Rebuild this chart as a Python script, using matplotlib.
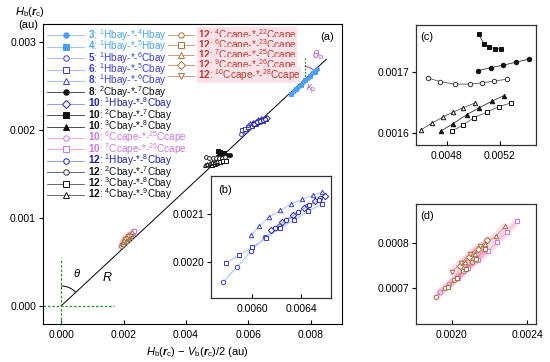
import numpy as np
import matplotlib
matplotlib.use("Agg")
import matplotlib.pyplot as plt
from matplotlib.patches import Arc
from matplotlib.transforms import IdentityTransform

plt.rcParams['font.family'] = ['Liberation Sans', 'DejaVu Sans']
plt.rcParams['mathtext.fontset'] = 'custom'
plt.rcParams['mathtext.rm'] = 'Liberation Sans'
plt.rcParams['mathtext.it'] = 'Liberation Sans:italic'
plt.rcParams['mathtext.bf'] = 'Liberation Sans:bold'
plt.rcParams['mathtext.bfit'] = 'Liberation Sans:italic:bold'

# ---------------- data ----------------
# legend labels (paths), same order as the series below
labels = [
    r"$\mathbf{3}$: $^{1}$Hbay-*-$^{4}$Hbay",
    r"$\mathbf{4}$: $^{1}$Hbay-*-$^{5}$Hbay",
    r"$\mathbf{5}$: $^{1}$Hbay-*-$^{6}$Cbay",
    r"$\mathbf{6}$: $^{1}$Hbay-*-$^{5}$Cbay",
    r"$\mathbf{8}$: $^{1}$Hbay-*-$^{6}$Cbay",
    r"$\mathbf{8}$: $^{2}$Cbay-*-$^{7}$Cbay",
    r"$\mathbf{10}$: $^{1}$Hbay-*-$^{8}$Cbay",
    r"$\mathbf{10}$: $^{2}$Cbay-*-$^{7}$Cbay",
    r"$\mathbf{10}$: $^{3}$Cbay-*-$^{8}$Cbay",
    r"$\mathbf{10}$: $^{6}$Ccape-*-$^{25}$Ccape",
    r"$\mathbf{10}$: $^{7}$Ccape-*-$^{26}$Ccape",
    r"$\mathbf{12}$: $^{1}$Hbay-*-$^{8}$Cbay",
    r"$\mathbf{12}$: $^{2}$Cbay-*-$^{7}$Cbay",
    r"$\mathbf{12}$: $^{3}$Cbay-*-$^{8}$Cbay",
    r"$\mathbf{12}$: $^{4}$Cbay-*-$^{9}$Cbay",
    r"$\mathbf{12}$: $^{4}$Ccape-*-$^{22}$Ccape",
    r"$\mathbf{12}$: $^{6}$Ccape-*-$^{23}$Ccape",
    r"$\mathbf{12}$: $^{7}$Ccape-*-$^{25}$Ccape",
    r"$\mathbf{12}$: $^{9}$Ccape-*-$^{26}$Ccape",
    r"$\mathbf{12}$: $^{10}$Ccape-*-$^{28}$Ccape",
]

# x = Hb - Vb/2, y = Hb  (au)
x_3_hh4 = [0.00745, 0.00760, 0.00775, 0.00790, 0.00805, 0.00820]
y_3_hh4 = [0.00244, 0.00249, 0.002545, 0.002595, 0.002645, 0.002695]
x_4_hh5 = [0.00738, 0.00752, 0.00768, 0.00783, 0.00798, 0.00812]
y_4_hh5 = [0.00241, 0.002465, 0.002515, 0.002565, 0.002615, 0.002665]

x_5_hc6 = [0.005763, 0.005878, 0.005992, 0.006106, 0.00622, 0.006335, 0.006449, 0.006555]
y_5_hc6 = [0.001958, 0.00199, 0.002023, 0.002052, 0.002075, 0.002096, 0.002117, 0.002133]
x_6_hc5 = [0.005788, 0.005894, 0.006, 0.006114, 0.006229, 0.006343, 0.006457, 0.006571]
y_6_hc5 = [0.001998, 0.002015, 0.002031, 0.00205, 0.002071, 0.002088, 0.002106, 0.002121]
x_8_hc6 = [0.005992, 0.006057, 0.006139, 0.006229, 0.006318, 0.006408, 0.006498, 0.006571]
y_8_hc6 = [0.002056, 0.002075, 0.002094, 0.002108, 0.002121, 0.002131, 0.00214, 0.002146]
x_10_hc8 = [0.006155, 0.006245, 0.006335, 0.006424, 0.006514, 0.006596]
y_10_hc8 = [0.002067, 0.002083, 0.002098, 0.002113, 0.002127, 0.002138]
x_12_hc8 = [0.006188, 0.006278, 0.006376, 0.006465, 0.006547]
y_12_hc8 = [0.002071, 0.002088, 0.002104, 0.002119, 0.00213]

x_8_cc7 = [0.005034, 0.005132, 0.005223, 0.005321, 0.005419]
y_8_cc7 = [0.001702, 0.001707, 0.001711, 0.001716, 0.001721]
x_10_cc7 = [0.005039, 0.005079, 0.005117, 0.005162, 0.005208]
y_10_cc7 = [0.001762, 0.001746, 0.001741, 0.001738, 0.001738]
x_10_cc8 = [0.004755, 0.004845, 0.004951, 0.005042, 0.00514, 0.00523]
y_10_cc8 = [0.001603, 0.001615, 0.00163, 0.001641, 0.001652, 0.001661]
x_12_cc7 = [0.004657, 0.004747, 0.00486, 0.004974, 0.005064, 0.005155, 0.005253]
y_12_cc7 = [0.00169, 0.001684, 0.00168, 0.00168, 0.001682, 0.001685, 0.001688]
x_12_cc8 = [0.004838, 0.004921, 0.005004, 0.005102, 0.005192, 0.005283]
y_12_cc8 = [0.001603, 0.001613, 0.001625, 0.001634, 0.001643, 0.001649]
x_12_cc9 = [0.004604, 0.004687, 0.00477, 0.004845, 0.004921, 0.005011]
y_12_cc9 = [0.001605, 0.001616, 0.001626, 0.001634, 0.001641, 0.001649]

x_10_cc25 = [0.001936, 0.001984, 0.002032, 0.00208, 0.002128, 0.002176]
y_10_cc25 = [0.000691, 0.000709, 0.000727, 0.000747, 0.000764, 0.000784]
x_10_cc26 = [0.002032, 0.002085, 0.002139, 0.002192, 0.00224, 0.002293, 0.002347]
y_10_cc26 = [0.000722, 0.000744, 0.000762, 0.000782, 0.000802, 0.000824, 0.000849]
x_12_cc22 = [0.001915, 0.001963, 0.002011, 0.002059, 0.002107]
y_12_cc22 = [0.00068, 0.0007, 0.000718, 0.000738, 0.000758]
x_12_cc23 = [0.001979, 0.002027, 0.002075, 0.002128, 0.002176]
y_12_cc23 = [0.000702, 0.000722, 0.000742, 0.000764, 0.000787]
x_12_cc25 = [0.002069, 0.002123, 0.002176, 0.002235, 0.002283]
y_12_cc25 = [0.000758, 0.000776, 0.000798, 0.000816, 0.000838]
x_12_cc26 = [0.002043, 0.002091, 0.002139, 0.002187]
y_12_cc26 = [0.000749, 0.000769, 0.000787, 0.000807]
x_12_cc28 = [0.002, 0.002048, 0.002096, 0.002149]
y_12_cc28 = [0.000736, 0.000756, 0.000776, 0.000793]

series_x = [x_3_hh4, x_4_hh5, x_5_hc6, x_6_hc5, x_8_hc6, x_8_cc7, x_10_hc8, x_10_cc7,
            x_10_cc8, x_10_cc25, x_10_cc26, x_12_hc8, x_12_cc7, x_12_cc8, x_12_cc9,
            x_12_cc22, x_12_cc23, x_12_cc25, x_12_cc26, x_12_cc28]
series_y = [y_3_hh4, y_4_hh5, y_5_hc6, y_6_hc5, y_8_hc6, y_8_cc7, y_10_hc8, y_10_cc7,
            y_10_cc8, y_10_cc25, y_10_cc26, y_12_hc8, y_12_cc7, y_12_cc8, y_12_cc9,
            y_12_cc22, y_12_cc23, y_12_cc25, y_12_cc26, y_12_cc28]

# straight line R through origin
fit_slope = 0.33
fit_x = np.array([0.0, 0.0085])

# ---------------- styles ----------------
LB, MB, DB, BK, OR, BR = '#4a9ef5', '#3a3ad8', '#1f1fa8', '#111111', '#c879dc', '#a4703c'
markers = ['o', 's', 'o', 's', '^', 'o', 'D', 's', '^', 'o', 's', 'o', 'o', 's', '^',
           'o', 's', '^', 'D', 'v']
mcolors = [LB, LB, MB, MB, MB, BK, DB, BK, BK, OR, OR, DB, '#333333', BK, BK,
           BR, BR, BR, BR, BR]
filled = [True, True, False, False, False, True, False, True, True, False, False,
          False, False, False, False, False, False, False, False, False]
lcolors = ['#94b8f6'] * 5 + ['#333333'] + ['#7f8cf0'] + ['#333333'] * 2 + ['#f2a0d0'] * 2 + \
          ['#7f8cf0'] + ['#555555'] * 3 + ['#d08a6a'] * 5
tcolors = ['#47a3f0', '#47a3f0', MB, MB, MB, BK, DB, BK, BK, OR, OR, DB, BK, BK, BK] + \
          ['#c0392b'] * 5
glow = [False] * 9 + [True, True] + [False] * 4 + [True] * 5

fig = plt.figure(figsize=(5.5, 3.62), dpi=100)
W, H = 550.0, 362.0


def px_axes(l, t, r, b):
    return fig.add_axes([l / W, 1 - b / H, (r - l) / W, (b - t) / H])


def draw_series(a, idx, ms):
    hs = []
    for i in idx:
        if glow[i]:
            a.plot(series_x[i], series_y[i], '-', color='#ff9ecb', lw=5, alpha=0.35,
                   solid_capstyle='round', zorder=1)
        h, = a.plot(series_x[i], series_y[i], '-', marker=markers[i], ms=ms, lw=0.6,
                    color=lcolors[i], mec=mcolors[i], mew=0.7,
                    mfc=mcolors[i] if filled[i] else 'white', zorder=3)
        hs.append(h)
    return hs


# ---------------- main panel (a) ----------------
ax = px_axes(43, 24, 342, 324)
ax.set_xlim(-0.00058, 0.009)
ax.set_ylim(-0.000205, 0.003205)
ax.plot(fit_x, fit_slope * fit_x, color='black', lw=0.7, zorder=2)
ax.plot([-0.00058, 0.0017], [0, 0], ls=(0, (2, 1.5)), color='#2e8b2e', lw=0.9)
ax.plot([0, 0], [-0.0002, 0.00055], ls=(0, (2, 1.5)), color='#2e8b2e', lw=0.9)
handles = draw_series(ax, range(20), 2.8)

ax.set_xticks([0, 0.002, 0.004, 0.006, 0.008])
ax.set_xticklabels(['0.000', '0.002', '0.004', '0.006', '0.008'])
ax.set_yticks([0, 0.001, 0.002, 0.003])
ax.set_yticklabels(['0.000', '0.001', '0.002', '0.003'])
ax.tick_params(axis='x', direction='in', length=3, labelsize=7.5, pad=4)
ax.tick_params(axis='y', direction='out', length=3, labelsize=7.5, pad=2)

ax.text(0.95, 0.957, '(a)', transform=ax.transAxes, ha='center', va='center', fontsize=8)
ax.text(0.00051, 0.000375, r'$\theta$', ha='center', va='center', fontsize=8)
ax.text(0.00147, 0.00032, r'$R$', ha='center', va='center', fontsize=9)

# angle arcs drawn in pixel space
o = ax.transData.transform((0, 0))
e = ax.transData.transform((fit_x[1], fit_slope * fit_x[1]))
ang = np.degrees(np.arctan2(e[1] - o[1], e[0] - o[0]))
ax.add_patch(Arc(o, 40, 40, theta1=ang, theta2=90, transform=IdentityTransform(),
                 color='black', lw=0.7))
c = ax.transData.transform((0.0078, fit_slope * 0.0078))
ax.plot([0.0078, 0.0078], [fit_slope * 0.0078, 0.00282], ls=(0, (1.5, 1.2)),
        color='#2e8b2e', lw=0.9)
ax.add_patch(Arc(c, 26, 26, theta1=ang, theta2=90, transform=IdentityTransform(),
                 color='#b04fd0', lw=0.8))
ax.text(0.00822, 0.00285, r'$\theta_\mathrm{b}$', color='#b04fd0', ha='center', va='center',
        fontsize=8)
ax.text(0.0080, 0.00246, r'$\kappa_\mathrm{p}$', color='#b04fd0', ha='center', va='center',
        fontsize=7)

leg1 = ax.legend(handles[:15], labels[:15], loc='upper left',
                 bbox_to_anchor=(47 / W, 1 - 27 / H), bbox_transform=fig.transFigure,
                 frameon=False, fontsize=7.2, handlelength=3.7, handletextpad=0.35,
                 labelspacing=-0.44, borderpad=0, borderaxespad=0, markerscale=1.4)
for t, col in zip(leg1.get_texts(), tcolors[:15]):
    t.set_color(col)
ax.add_artist(leg1)
leg2 = ax.legend(handles[15:], labels[15:], loc='upper left',
                 bbox_to_anchor=(168 / W, 1 - 27 / H), bbox_transform=fig.transFigure,
                 frameon=False, fontsize=7.2, handlelength=2.6, handletextpad=0.35,
                 labelspacing=-0.575, borderpad=0, borderaxespad=0, markerscale=1.4)
for t, col in zip(leg2.get_texts(), tcolors[15:]):
    t.set_color(col)
    t.set_bbox(dict(facecolor='#fde2ea', edgecolor='none', pad=0.05))

fig.text(30 / W, 1 - 12 / H, r'$H_\mathrm{b}(\mathbfit{r}_\mathrm{c})$', ha='center',
         va='center', fontsize=8)
fig.text(28 / W, 1 - 25 / H, '(au)', ha='center', va='center', fontsize=8)
fig.text(197 / W, 1 - 352 / H,
         r'$H_\mathrm{b}(\mathbfit{r}_\mathrm{c})$ $-$ $V_\mathrm{b}(\mathbfit{r}_\mathrm{c})$/2 (au)',
         ha='center', va='center', fontsize=8)


def style_inset(a, xt, yt, fmt):
    a.set_xticks(xt)
    a.set_xticklabels([fmt % v for v in xt])
    a.set_yticks(yt)
    a.set_yticklabels([fmt % v for v in yt])
    a.tick_params(axis='x', direction='in', length=3, labelsize=7.5, pad=4)
    a.tick_params(axis='y', direction='out', length=3, labelsize=7.5, pad=2)
    for s in a.spines.values():
        s.set_linewidth(0.9)
        s.set_color('#333333')


# ---------------- inset (b) ----------------
axb = px_axes(211, 176, 331, 298)
axb.set_zorder(5)
axb.set_facecolor('white')
draw_series(axb, [2, 3, 4, 6, 11], 3.2)
axb.set_xlim(0.005665, 0.006645)
axb.set_ylim(0.001925, 0.00218)
style_inset(axb, [0.0060, 0.0064], [0.0020, 0.0021], '%.4f')
axb.text(0.12, 0.885, '(b)', transform=axb.transAxes, ha='center', va='center', fontsize=8)

# ---------------- inset (c) ----------------
axc = px_axes(416, 25, 536, 145)
draw_series(axc, [5, 7, 8, 12, 13, 14], 3.2)
axc.set_xlim(0.004566, 0.005472)
axc.set_ylim(0.00158, 0.001777)
style_inset(axc, [0.0048, 0.0052], [0.0016, 0.0017], '%.4f')
axc.text(0.09, 0.9, '(c)', transform=axc.transAxes, ha='center', va='center', fontsize=8)

# ---------------- inset (d) ----------------
axd = px_axes(416, 204, 536, 324)
draw_series(axd, [9, 10, 15, 16, 17, 18, 19], 3.2)
axd.set_xlim(0.001808, 0.002448)
axd.set_ylim(0.00062, 0.000887)
style_inset(axd, [0.0020, 0.0024], [0.0007, 0.0008], '%.4f')
axd.text(0.09, 0.9, '(d)', transform=axd.transAxes, ha='center', va='center', fontsize=8)

fig.savefig('out.png', dpi=100)
